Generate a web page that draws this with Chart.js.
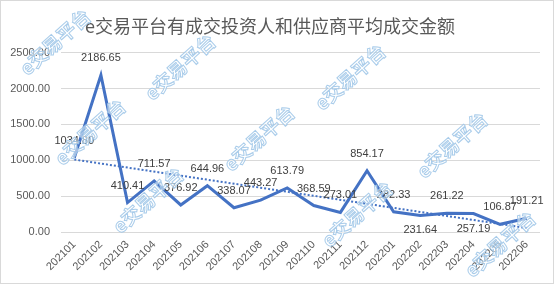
<!DOCTYPE html>
<html>
<head>
<meta charset="utf-8">
<script src="https://cdn.jsdelivr.net/npm/chart.js@4/dist/chart.umd.min.js"></script>
<style>
html,body{margin:0;padding:0;background:#fff;}
#wrap{width:554px;height:284px;position:relative;}
</style>
</head>
<body>
<div id="wrap"><canvas id="c" width="554" height="284"></canvas></div>
<script>
// ---- data ----
const categories = ['202101','202102','202103','202104','202105','202106','202107','202108','202109','202110','202111','202112','202201','202202','202203','202204','202205','202206'];
const avgAmount = [1034.80, 2186.65, 410.41, 711.57, 376.92, 644.96, 338.07, 443.27, 613.79, 368.59, 273.01, 854.17, 282.33, 231.64, 261.22, 257.19, 106.87, 191.21];
// linear trend line (start / end values only)
const trendStart = 1010;
const trendEnd = 55;
const trendValues = categories.map((c, i) => i === 0 ? trendStart : (i === categories.length - 1 ? trendEnd : null));
const yTicks = [0, 500, 1000, 1500, 2000, 2500];
const titleText = 'e交易平台有成交投资人和供应商平均成交金额';
const watermarkText = 'e交易平台';

// label placement (style): labels below the point for these indices
const labelBelow = [13, 15];
// watermark decoration spots (canvas px)
const watermarkSpots = [[55,42],[180,67],[90,132],[148,200],[259,138],[350,77],[452,145],[357,214],[500,244]];

const FONT = "'Liberation Sans', Arial, sans-serif";

const decor = {
  id: 'decor',
  afterDatasetsDraw(chart) {
    const ctx = chart.ctx;
    const meta = chart.getDatasetMeta(0);
    ctx.save();
    ctx.font = '11px ' + FONT;
    ctx.fillStyle = '#404040';
    ctx.textAlign = 'center';
    ctx.textBaseline = 'middle';
    meta.data.forEach((pt, i) => {
      const v = avgAmount[i];
      const below = labelBelow.includes(i);
      ctx.fillText(v.toFixed(2), pt.x, pt.y + (below ? 15 : -17));
    });
    ctx.restore();
  },
  afterDraw(chart) {
    const ctx = chart.ctx;
    ctx.save();
    ctx.font = "bold 19px 'Noto Sans CJK SC', sans-serif";
    ctx.textAlign = 'center';
    ctx.textBaseline = 'middle';
    ctx.strokeStyle = 'rgba(160,198,232,0.9)';
    ctx.lineWidth = 1;
    ctx.fillStyle = 'rgba(255,255,255,0.55)';
    watermarkSpots.forEach(([x, y]) => {
      ctx.save();
      ctx.translate(x, y);
      ctx.rotate(-42 * Math.PI / 180);
      ctx.fillText(watermarkText, 0, 0);
      ctx.strokeText(watermarkText, 0, 0);
      ctx.restore();
    });
    ctx.restore();
    ctx.save();
    ctx.strokeStyle = '#d9d9d9';
    ctx.lineWidth = 1;
    ctx.strokeRect(0.5, 0.5, chart.width - 1, chart.height - 1);
    ctx.restore();
  }
};

new Chart(document.getElementById('c'), {
  type: 'line',
  data: {
    labels: categories,
    datasets: [
      {
        label: '平均成交金额',
        data: avgAmount,
        borderColor: '#4472C4',
        borderWidth: 3,
        pointRadius: 0,
        tension: 0,
        fill: false
      },
      {
        label: '线性趋势',
        data: trendValues,
        borderColor: '#4472C4',
        borderWidth: 2,
        borderDash: [2, 2],
        pointRadius: 0,
        spanGaps: true,
        fill: false
      }
    ]
  },
  options: {
    responsive: false,
    animation: false,
    layout: { padding: { left: 0, right: 14, top: 0, bottom: 6 } },
    plugins: {
      legend: { display: false },
      tooltip: { enabled: false },
      title: {
        display: true,
        text: titleText,
        color: '#595959',
        font: { family: "'Noto Sans CJK SC', sans-serif", size: 18, weight: 'normal' },
        padding: { top: 15, bottom: 16 }
      }
    },
    scales: {
      x: {
        offset: true,
        grid: { display: false, drawTicks: false, offset: true },
        border: { display: false },
        ticks: {
          color: '#595959',
          font: { family: FONT, size: 11 },
          autoSkip: false,
          minRotation: 45,
          maxRotation: 45,
          padding: 6
        },
        afterFit(s) { s.height = 46; }
      },
      y: {
        min: 0,
        max: 2500,
        afterBuildTicks(s) { s.ticks = yTicks.map(v => ({ value: v })); },
        grid: { color: '#d9d9d9', lineWidth: 1, drawTicks: false },
        border: { display: false },
        ticks: {
          color: '#595959',
          font: { family: FONT, size: 11 },
          padding: 11,
          callback: v => Number(v).toFixed(2)
        },
        afterFit(s) { s.width = 61; }
      }
    }
  },
  plugins: [decor]
});
</script>
</body>
</html>
